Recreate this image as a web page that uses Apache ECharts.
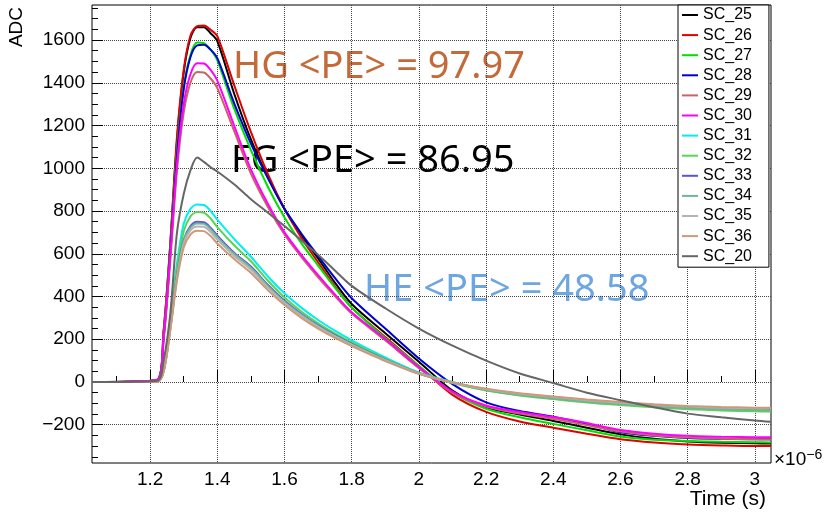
<!DOCTYPE html>
<html>
<head>
<meta charset="utf-8">
<script src="https://cdn.jsdelivr.net/npm/echarts@6/dist/echarts.min.js"></script>
<style>
  html, body { margin: 0; padding: 0; background: #fff; }
  #chart { width: 824px; height: 514px; }
</style>
</head>
<body>
<div id="chart"></div>
<script>
// time axis (x 1e-6 s)
const times = [1.027, 1.22, 1.24, 1.26, 1.28, 1.30, 1.32, 1.34, 1.36, 1.38, 1.40, 1.45, 1.5, 1.55, 1.6, 1.65, 1.7, 1.75, 1.8, 1.9, 2.0, 2.1, 2.2, 2.3, 2.4, 2.5, 2.6, 2.7, 2.8, 2.9, 3.0, 3.048];

const sc25 = [0, 10, 230, 640, 1130, 1450, 1610, 1660, 1660, 1632, 1595, 1350, 1135, 960, 810, 688, 578, 465, 365, 228, 95, -40, -118, -152, -182, -214, -245, -266, -278, -284, -287, -288];
const sc26 = [0, 10, 240, 650, 1150, 1460, 1620, 1665, 1668, 1648, 1618, 1390, 1170, 975, 810, 675, 560, 448, 348, 210, 75, -60, -140, -185, -214, -242, -268, -283, -292, -297, -300, -300];
const sc27 = [0, 10, 220, 620, 1080, 1380, 1530, 1588, 1585, 1555, 1505, 1280, 1085, 915, 770, 650, 545, 442, 348, 205, 75, -50, -125, -165, -196, -226, -255, -270, -276, -280, -282, -283];
const sc28 = [0, 8, 200, 600, 1060, 1370, 1520, 1575, 1578, 1555, 1515, 1305, 1115, 955, 810, 695, 590, 487, 392, 250, 110, -10, -95, -136, -162, -196, -235, -252, -262, -266, -268, -268];
const sc29 = [0, 8, 200, 570, 990, 1260, 1400, 1450, 1448, 1420, 1375, 1175, 975, 820, 690, 585, 490, 402, 320, 195, 65, -50, -115, -148, -172, -202, -232, -250, -260, -265, -268, -269];
const sc30 = [0, 10, 210, 590, 1020, 1300, 1440, 1492, 1490, 1460, 1410, 1200, 995, 835, 700, 595, 500, 410, 326, 200, 70, -45, -110, -140, -164, -192, -225, -242, -252, -256, -258, -259];
const sc31 = [0, 0, 58, 282, 557, 740, 810, 830, 828, 800, 760, 670, 586, 495, 415, 348, 290, 240, 195, 115, 45, 0, -35, -58, -75, -92, -103, -113, -122, -128, -132, -133];
const sc32 = [0, 0, 55, 270, 530, 705, 775, 795, 792, 765, 725, 640, 565, 475, 395, 330, 275, 228, 185, 108, 42, -5, -40, -63, -80, -96, -108, -118, -127, -133, -137, -138];
const sc33 = [0, 0, 50, 255, 500, 665, 730, 750, 748, 722, 685, 605, 540, 455, 380, 318, 265, 219, 178, 104, 40, -3, -35, -58, -74, -89, -100, -110, -118, -122, -125, -126];
const sc34 = [0, 0, 50, 250, 495, 660, 722, 742, 740, 715, 678, 600, 535, 450, 375, 314, 262, 216, 176, 103, 40, -4, -38, -61, -77, -92, -104, -114, -123, -128, -131, -132];
const sc35 = [0, 0, 48, 245, 488, 648, 710, 728, 726, 702, 666, 590, 525, 442, 370, 310, 258, 213, 174, 102, 40, -2, -33, -55, -70, -85, -97, -107, -115, -120, -122, -123];
const sc36 = [0, 0, 46, 240, 475, 630, 690, 708, 706, 683, 648, 575, 510, 430, 360, 300, 250, 206, 168, 98, 38, -2, -32, -53, -68, -82, -94, -104, -112, -117, -120, -121];
const sc20 = [0, 5, 100, 320, 700, 880, 990, 1050, 1030, 1005, 985, 925, 855, 793, 730, 663, 595, 522, 450, 345, 250, 170, 100, 40, -5, -50, -85, -118, -148, -165, -180, -186];

const names = ["SC_25", "SC_26", "SC_27", "SC_28", "SC_29", "SC_30", "SC_31", "SC_32", "SC_33", "SC_34", "SC_35", "SC_36", "SC_20"];
const values = [sc25, sc26, sc27, sc28, sc29, sc30, sc31, sc32, sc33, sc34, sc35, sc36, sc20];
const colors = ["#000000", "#e00000", "#00e000", "#0000d0", "#c86464", "#ff00ff", "#00eeee", "#59d454", "#5954d9", "#6fb595", "#b4b4b4", "#cc9a78", "#666666"];

const xMajor = [1.2, 1.4, 1.6, 1.8, 2, 2.2, 2.4, 2.6, 2.8, 3];
const xMinor = [1.1, 1.3, 1.5, 1.7, 1.9, 2.1, 2.3, 2.5, 2.7, 2.9];
const yMajor = [-200, 0, 200, 400, 600, 800, 1000, 1200, 1400, 1600];
const yMinor = [];
for (let v = -350; v <= 1750; v += 50) {
  if (v % 200 !== 0) yMinor.push(v);
}

const fontRoot = "Liberation Sans";

let chart = echarts.init(document.getElementById("chart"));
chart.setOption({
  animation: false,
  backgroundColor: "#fff",
  color: colors,
  grid: {
    left: 92,
    right: 53,
    top: 5,
    bottom: 51,
    show: true,
    borderColor: "#000",
    borderWidth: 1,
    backgroundColor: "#fff",
  },
  legend: {
    orient: "vertical",
    left: 678,
    top: 5,
    padding: [2, 17, 3, 4],
    itemGap: 4.1,
    itemWidth: 16,
    itemHeight: 2,
    icon: "rect",
    backgroundColor: "#fff",
    borderColor: "#000",
    borderWidth: 1,
    data: names,
    textStyle: {
      fontFamily: fontRoot,
      fontSize: 16,
      lineHeight: 16,
      color: "#000",
    },
  },
  xAxis: [
    {
      type: "value",
      min: 1.027,
      max: 3.048,
      axisLine: { show: false },
      axisTick: {
        inside: true,
        length: 12,
        customValues: xMajor,
        lineStyle: { color: "#000" },
      },
      axisLabel: {
        customValues: xMajor,
        margin: 7,
        fontFamily: fontRoot,
        fontSize: 19,
        color: "#000",
      },
      splitLine: {
        show: true,
        lineStyle: { type: "dotted", color: "#444", width: 1 },
      },
    },
    {
      type: "value",
      min: 1.027,
      max: 3.048,
      position: "bottom",
      axisLine: { show: false },
      axisTick: {
        inside: true,
        length: 6,
        customValues: xMinor,
        lineStyle: { color: "#000" },
      },
      axisLabel: { show: false },
      splitLine: { show: false },
    },
  ],
  yAxis: [
    {
      type: "value",
      min: -379,
      max: 1764,
      axisLine: { show: false },
      axisTick: {
        show: true,
        inside: true,
        length: 11,
        customValues: yMajor,
        lineStyle: { color: "#000" },
      },
      axisLabel: {
        customValues: yMajor,
        margin: 7,
        fontFamily: fontRoot,
        fontSize: 19,
        color: "#000",
        formatter: (v) => String(v).replace("-", "\u2212"),
      },
      splitLine: {
        show: true,
        lineStyle: { type: "dotted", color: "#444", width: 1 },
      },
    },
    {
      type: "value",
      min: -379,
      max: 1764,
      position: "left",
      axisLine: { show: false },
      axisTick: {
        show: true,
        inside: true,
        length: 6,
        customValues: yMinor,
        lineStyle: { color: "#000" },
      },
      axisLabel: { show: false },
      splitLine: { show: false },
    },
  ],
  series: names.map((name, k) => ({
    name: name,
    type: "line",
    xAxisIndex: 0,
    yAxisIndex: 0,
    smooth: 0.3,
    showSymbol: false,
    symbol: "none",
    lineStyle: { width: 2, color: colors[k] },
    itemStyle: { color: colors[k] },
    data: times.map((t, i) => [t, values[k][i]]),
  })),
  graphic: [
    {
      type: "text",
      x: 17,
      y: 27,
      rotation: Math.PI / 2,
      style: {
        text: "ADC",
        fontFamily: fontRoot,
        fontSize: 19,
        fill: "#000",
        align: "center",
        verticalAlign: "middle",
      },
    },
    {
      type: "text",
      x: 766,
      y: 499,
      style: {
        text: "Time (s)",
        fontFamily: fontRoot,
        fontSize: 21,
        fill: "#000",
        align: "right",
        verticalAlign: "middle",
      },
    },
    {
      type: "text",
      x: 774,
      y: 460,
      style: {
        text: "{b|\u00d710}{s|\u22126}",
        verticalAlign: "middle",
        rich: {
          b: { fontFamily: fontRoot, fontSize: 19, fill: "#000" },
          s: { fontFamily: fontRoot, fontSize: 14, fill: "#000", verticalAlign: "top", padding: [0, 0, 10, 0] },
        },
      },
    },
    {
      type: "text",
      x: 233,
      y: 67,
      style: {
        text: "HG <PE> = 97.97",
        fontFamily: "Noto Sans",
        fontSize: 38,
        fill: "#c46a3a",
        verticalAlign: "middle",
      },
    },
    {
      type: "text",
      x: 231,
      y: 161,
      style: {
        text: "FG <PE> = 86.95",
        fontFamily: "Noto Sans",
        fontSize: 38,
        fill: "#000",
        verticalAlign: "middle",
      },
    },
    {
      type: "text",
      x: 364,
      y: 290,
      style: {
        text: "HE <PE> = 48.58",
        fontFamily: "Noto Sans",
        fontSize: 38,
        fill: "#6ea6e0",
        verticalAlign: "middle",
      },
    },
  ],
});
</script>
</body>
</html>
